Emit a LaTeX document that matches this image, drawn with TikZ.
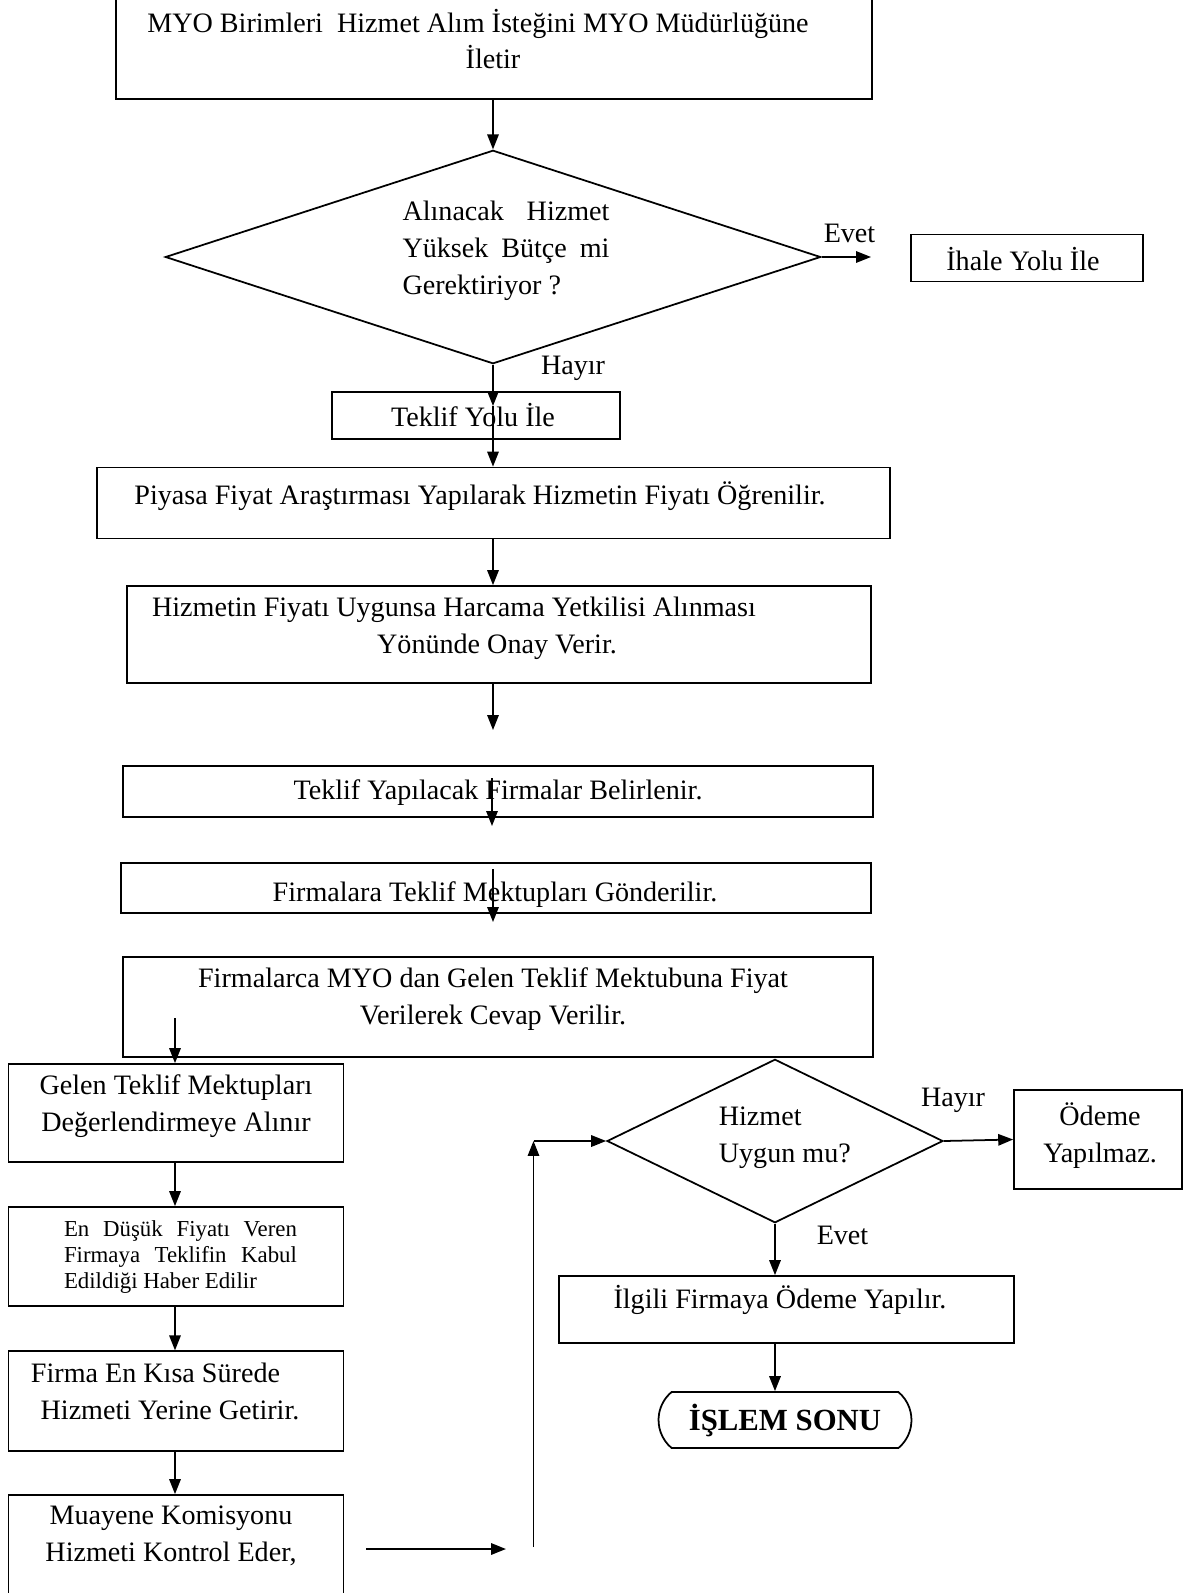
\documentclass[tikz,border=0pt]{standalone}
\usepackage{fontspec}
\setmainfont{Liberation Serif}
\usetikzlibrary{arrows.meta,shapes.geometric,shapes.misc}

\begin{document}
\begin{tikzpicture}[x=0.02cm,y=-0.02cm,
        yazi/.style={font=\fontsize{16}{21}\selectfont, inner sep=0pt},
        kucukyazi/.style={font=\fontsize{13}{14.8}\selectfont, inner sep=0pt},
        kutu/.style={draw, line width=1pt, rectangle, inner sep=0pt},
        karo/.style={draw, line width=1pt, diamond, inner sep=0pt},
        ok/.style={-{Triangle[length=8.5pt,width=6.5pt]}, line width=1pt}]

        \useasboundingbox (0,0) rectangle (1193,1593);

        % kutular
        \node[kutu, minimum width=15.12cm, minimum height=2.08cm] (istek) at (494,47) {};
        \node[karo, minimum width=13.11cm, minimum height=4.27cm] (karar) at (493,257) {};
        \node[kutu, minimum width=4.63cm, minimum height=0.94cm] (ihale) at (1027,258) {};
        \node[kutu, minimum width=5.76cm, minimum height=0.94cm] (teklif) at (476,415.5) {};
        \node[kutu, minimum width=15.87cm, minimum height=1.42cm] (piyasa) at (493.3,503) {};
        \node[kutu, minimum width=14.88cm, minimum height=1.94cm] (onay) at (499,634.5) {};
        \node[kutu, minimum width=15cm, minimum height=1.02cm] (firmalar) at (498,791.5) {};
        \node[kutu, minimum width=15cm, minimum height=1cm] (mektup) at (496,888) {};
        \node[kutu, minimum width=15cm, minimum height=2cm] (cevap) at (498,1007) {};
        \node[kutu, minimum width=6.7cm, minimum height=1.96cm] (degerlendirme) at (176,1113) {};
        \node[kutu, minimum width=6.7cm, minimum height=1.98cm] (kabul) at (176,1256.5) {};
        \node[kutu, minimum width=6.7cm, minimum height=1.99cm] (getir) at (176,1401) {};
        \node[kutu, minimum width=6.7cm, minimum height=2.1cm] (muayene) at (176,1547.5) {};
        \node[karo, minimum width=6.72cm, minimum height=3.27cm] (uygun) at (775,1141) {};
        \node[kutu, minimum width=3.36cm, minimum height=1.98cm] (odemeyok) at (1098,1139.5) {};
        \node[kutu, minimum width=9.1cm, minimum height=1.34cm] (odeme) at (786.5,1309.5) {};
        \node[draw, line width=1pt, rounded rectangle, rounded rectangle arc length=100,
              minimum width=5.06cm, minimum height=1.12cm, inner sep=0pt,
              font=\bfseries\fontsize{17.5}{21}\selectfont] (son) at (785,1420) {İŞLEM SONU};

        % yazilar
        \node[yazi, align=center] (istektxt) at (478,39) {MYO Birimleri \ Hizmet Alım İsteğini MYO Müdürlüğüne\\\hspace*{0.6cm}İletir};
        \node[yazi, text width=4.14cm, align=justify] (karartxt) at (506,251) {Alınacak Hizmet\linebreak Yüksek Bütçe mi\linebreak Gerektiriyor ?};
        \node[yazi] (ihaletxt) at (1023,259) {İhale Yolu İle};
        \node[yazi] (teklittxt) at (473,415) {Teklif Yolu İle};
        \node[yazi] (piyasatxt) at (480,496) {Piyasa Fiyat Araştırması Yapılarak Hizmetin Fiyatı Öğrenilir.};
        \node[yazi, align=center] (onaytxt) at (454,628.5) {Hizmetin Fiyatı Uygunsa Harcama Yetkilisi Alınması\\\hspace*{1.72cm}Yönünde Onay Verir.};
        \node[yazi] (firmalartxt) at (498,792.5) {Teklif Yapılacak Firmalar Belirlenir.};
        \node[yazi] (mektuptxt) at (495,895) {Firmalara Teklif Mektupları Gönderilir.};
        \node[yazi, align=center] (cevaptxt) at (493,999.5) {Firmalarca MYO dan Gelen Teklif Mektubuna Fiyat\\Verilerek Cevap Verilir.};
        \node[yazi, align=center] (degerlendirmetxt) at (176,1106) {Gelen Teklif Mektupları\\Değerlendirmeye Alınır};
        \node[kucukyazi, text width=4.66cm, align=justify] (kabultxt) at (180.5,1257) {En Düşük Fiyatı Veren\linebreak Firmaya Teklifin Kabul\linebreak Edildiği Haber Edilir};
        \node[yazi, align=center] (getirtxt) at (155.5,1391) {Firma En Kısa Sürede\\\hspace*{0.58cm}Hizmeti Yerine Getirir.};
        \node[yazi, align=center] (muayenetxt) at (171,1535.5) {Muayene Komisyonu\\Hizmeti Kontrol Eder,};
        \node[yazi, align=left, anchor=west] (uyguntxt) at (718.5,1137.5) {Hizmet\\Uygun mu?};
        \node[yazi, align=center] (odemeyoktxt) at (1100,1135.5) {Ödeme\\Yapılmaz.};
        \node[yazi] (odemetxt) at (780,1300) {İlgili Firmaya Ödeme Yapılır.};

        \node[yazi] (evet1) at (849.5,233) {Evet};
        \node[yazi] (hayir1) at (573,368) {Hayır};
        \node[yazi] (hayir2) at (953,1100.5) {Hayır};
        \node[yazi] (evet2) at (842.5,1235) {Evet};

        % serbest uclar
        \coordinate (evetuc) at (871,257);
        \coordinate (teklifok) at (493,406);
        \coordinate (bos1) at (493,730);
        \coordinate (f1a) at (492,778);
        \coordinate (f1b) at (492,826);
        \coordinate (f2a) at (493,869);
        \coordinate (f2b) at (493,922);
        \coordinate (cevapok) at (175,1018);
        \coordinate (kontrolbas) at (366,1549);
        \coordinate (kontrolson) at (506,1549);
        \coordinate (donusalt) at (533.5,1547);
        \coordinate (donusust) at (533.5,1141);

        \draw[ok] (istek.south -| karar.north) -- (karar.north);
        \draw[ok] (karar.east) -- (evetuc);
        \draw[ok] (karar.south) -- (teklifok);
        \draw[ok] (teklifok) -- (piyasa.north -| teklifok);
        \draw[ok] (piyasa.south -| teklifok) -- (onay.north -| teklifok);
        \draw[ok] (onay.south -| teklifok) -- (bos1);
        \draw[ok] (f1a) -- (f1b);
        \draw[ok] (f2a) -- (f2b);
        \draw[ok] (cevapok) -- (degerlendirme.north -| cevapok);
        \draw[ok] (degerlendirme.south -| cevapok) -- (kabul.north -| cevapok);
        \draw[ok] (kabul.south -| cevapok) -- (getir.north -| cevapok);
        \draw[ok] (getir.south -| cevapok) -- (muayene.north -| cevapok);
        \draw[ok] (kontrolbas) -- (kontrolson);
        \draw[ok] (donusalt) -- (donusust);
        \draw[ok] (donusust) -- (uygun.west);
        \draw[ok] (uygun.east) -- (odemeyok.west);
        \draw[ok] (uygun.south) -- (odeme.north -| uygun.south);
        \draw[ok] (odeme.south -| uygun.south) -- (son.north -| uygun.south);
    \end{tikzpicture}
\end{document}
